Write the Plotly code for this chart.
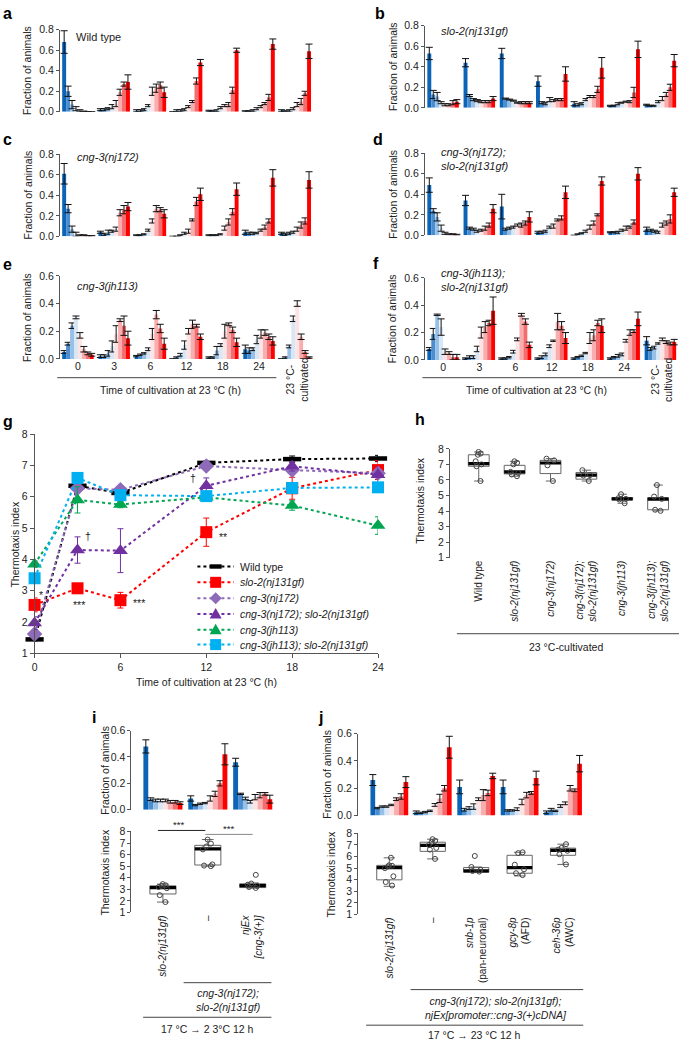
import plotly.graph_objects as go

W, H = 685, 1047
FONT = "Liberation Sans, Arial, Helvetica, sans-serif"
INK = "#222222"
AXC = "#555555"


def px(x):
    return x / W


def py(y):
    return 1 - y / H


# ---------------- data ----------------
SECTION_COLORS = ["#0b64b5", "#4a8ed0", "#98c0e6", "#d8e7f6",
                  "#fde3e3", "#f8adae", "#f36c6e", "#ff0000"]
TIME_GROUPS = ["0", "3", "6", "12", "18", "24", "23C"]
TIME_TICKTEXT = ["0", "3", "6", "12", "18", "24", ""]

# a: Wild type (rows = groups, columns = plate sections -4..+4)
A_MEAN = [[0.68, 0.20, 0.07, 0.03, 0.01, 0.005, 0.0, 0.0],
          [0.02, 0.02, 0.03, 0.05, 0.08, 0.19, 0.27, 0.29],
          [0.01, 0.01, 0.02, 0.06, 0.20, 0.23, 0.26, 0.19],
          [0.00, 0.01, 0.01, 0.02, 0.05, 0.10, 0.30, 0.48],
          [0.01, 0.005, 0.01, 0.04, 0.06, 0.07, 0.21, 0.60],
          [0.005, 0.005, 0.01, 0.03, 0.05, 0.08, 0.14, 0.66],
          [0.01, 0.005, 0.01, 0.03, 0.07, 0.10, 0.18, 0.59]]
A_ERR = [[0.11, 0.05, 0.04, 0.02, 0.01, 0.0, 0.0, 0.0],
         [0.01, 0.01, 0.01, 0.02, 0.03, 0.03, 0.02, 0.07],
         [0.01, 0.01, 0.01, 0.01, 0.04, 0.04, 0.03, 0.05],
         [0.0, 0.01, 0.01, 0.01, 0.01, 0.01, 0.03, 0.03],
         [0.005, 0.005, 0.01, 0.01, 0.01, 0.02, 0.03, 0.02],
         [0.005, 0.005, 0.01, 0.01, 0.01, 0.01, 0.03, 0.05],
         [0.01, 0.005, 0.01, 0.01, 0.02, 0.03, 0.02, 0.07]]

# b: slo-2(nj131gf)
B_MEAN = [[0.53, 0.13, 0.11, 0.05, 0.03, 0.03, 0.05, 0.06],
          [0.44, 0.12, 0.08, 0.07, 0.06, 0.06, 0.06, 0.09],
          [0.53, 0.09, 0.08, 0.07, 0.05, 0.05, 0.05, 0.05],
          [0.26, 0.05, 0.04, 0.08, 0.07, 0.08, 0.08, 0.33],
          [0.04, 0.03, 0.04, 0.08, 0.11, 0.11, 0.18, 0.39],
          [0.02, 0.02, 0.04, 0.05, 0.06, 0.06, 0.15, 0.57],
          [0.03, 0.02, 0.02, 0.06, 0.09, 0.13, 0.20, 0.46]]
B_ERR = [[0.06, 0.04, 0.04, 0.01, 0.01, 0.01, 0.02, 0.02],
         [0.04, 0.01, 0.01, 0.01, 0.01, 0.01, 0.01, 0.02],
         [0.05, 0.005, 0.005, 0.005, 0.005, 0.01, 0.01, 0.01],
         [0.05, 0.01, 0.01, 0.02, 0.01, 0.01, 0.01, 0.07],
         [0.02, 0.01, 0.01, 0.01, 0.01, 0.01, 0.03, 0.10],
         [0.005, 0.005, 0.01, 0.005, 0.005, 0.01, 0.05, 0.08],
         [0.005, 0.005, 0.005, 0.01, 0.02, 0.02, 0.03, 0.06]]

# c: cng-3(nj172)
C_MEAN = [[0.61, 0.27, 0.07, 0.02, 0.01, 0.01, 0.005, 0.005],
          [0.04, 0.02, 0.04, 0.05, 0.07, 0.23, 0.26, 0.29],
          [0.01, 0.01, 0.02, 0.06, 0.15, 0.27, 0.26, 0.22],
          [0.0, 0.0, 0.01, 0.03, 0.05, 0.16, 0.34, 0.41],
          [0.01, 0.01, 0.01, 0.02, 0.08, 0.14, 0.24, 0.46],
          [0.04, 0.03, 0.03, 0.03, 0.06, 0.09, 0.15, 0.57],
          [0.03, 0.02, 0.03, 0.04, 0.07, 0.11, 0.15, 0.55]]
C_ERR = [[0.10, 0.04, 0.03, 0.02, 0.005, 0.005, 0.0, 0.0],
         [0.01, 0.01, 0.02, 0.01, 0.02, 0.03, 0.04, 0.04],
         [0.005, 0.005, 0.005, 0.01, 0.02, 0.03, 0.02, 0.04],
         [0.0, 0.0, 0.005, 0.01, 0.02, 0.01, 0.04, 0.06],
         [0.005, 0.005, 0.005, 0.005, 0.02, 0.03, 0.03, 0.06],
         [0.02, 0.01, 0.01, 0.005, 0.01, 0.02, 0.02, 0.08],
         [0.01, 0.01, 0.01, 0.01, 0.02, 0.03, 0.03, 0.08]]

# d: cng-3(nj172); slo-2(nj131gf)
D_MEAN = [[0.49, 0.24, 0.18, 0.07, 0.02, 0.01, 0.01, 0.005],
          [0.34, 0.07, 0.06, 0.04, 0.05, 0.07, 0.10, 0.26],
          [0.28, 0.06, 0.07, 0.08, 0.10, 0.10, 0.12, 0.18],
          [0.03, 0.03, 0.04, 0.08, 0.09, 0.15, 0.17, 0.42],
          [0.0, 0.01, 0.02, 0.04, 0.08, 0.12, 0.20, 0.53],
          [0.03, 0.03, 0.03, 0.05, 0.07, 0.08, 0.13, 0.60],
          [0.06, 0.05, 0.04, 0.03, 0.10, 0.12, 0.16, 0.42]]
D_ERR = [[0.07, 0.02, 0.04, 0.03, 0.01, 0.005, 0.005, 0.005],
         [0.05, 0.01, 0.01, 0.01, 0.01, 0.02, 0.02, 0.04],
         [0.12, 0.01, 0.01, 0.01, 0.01, 0.02, 0.02, 0.05],
         [0.01, 0.01, 0.01, 0.01, 0.02, 0.01, 0.02, 0.06],
         [0.0, 0.005, 0.005, 0.01, 0.02, 0.02, 0.01, 0.04],
         [0.005, 0.005, 0.01, 0.01, 0.02, 0.01, 0.02, 0.06],
         [0.02, 0.01, 0.01, 0.01, 0.02, 0.02, 0.04, 0.04]]

# e: cng-3(jh113)
E_MEAN = [[0.05, 0.11, 0.24, 0.30, 0.17, 0.07, 0.04, 0.03],
          [0.02, 0.02, 0.04, 0.09, 0.18, 0.28, 0.24, 0.15],
          [0.02, 0.03, 0.04, 0.07, 0.18, 0.32, 0.22, 0.11],
          [0.0, 0.01, 0.03, 0.10, 0.20, 0.25, 0.24, 0.16],
          [0.01, 0.01, 0.06, 0.10, 0.20, 0.25, 0.21, 0.12],
          [0.07, 0.06, 0.07, 0.14, 0.18, 0.19, 0.16, 0.13],
          [0.0, 0.01, 0.09, 0.29, 0.40, 0.16, 0.05, 0.01]]
E_ERR = [[0.01, 0.01, 0.02, 0.01, 0.02, 0.02, 0.01, 0.01],
         [0.01, 0.01, 0.02, 0.04, 0.06, 0.01, 0.07, 0.05],
         [0.005, 0.005, 0.005, 0.01, 0.04, 0.03, 0.03, 0.04],
         [0.0, 0.005, 0.01, 0.03, 0.02, 0.03, 0.01, 0.02],
         [0.005, 0.005, 0.03, 0.01, 0.05, 0.01, 0.02, 0.03],
         [0.03, 0.02, 0.01, 0.03, 0.03, 0.02, 0.02, 0.03],
         [0.0, 0.005, 0.01, 0.02, 0.02, 0.02, 0.01, 0.005]]

# f: cng-3(jh113); slo-2(nj131gf)
F_MEAN = [[0.08, 0.19, 0.33, 0.24, 0.06, 0.05, 0.02, 0.02],
          [0.01, 0.02, 0.02, 0.08, 0.20, 0.24, 0.27, 0.36],
          [0.01, 0.01, 0.02, 0.06, 0.15, 0.33, 0.28, 0.11],
          [0.01, 0.02, 0.04, 0.10, 0.14, 0.28, 0.25, 0.16],
          [0.01, 0.02, 0.03, 0.05, 0.16, 0.18, 0.27, 0.25],
          [0.01, 0.02, 0.03, 0.04, 0.14, 0.20, 0.21, 0.30],
          [0.14, 0.08, 0.09, 0.12, 0.15, 0.13, 0.12, 0.13]]
F_ERR = [[0.01, 0.04, 0.005, 0.06, 0.02, 0.01, 0.02, 0.02],
         [0.005, 0.01, 0.01, 0.02, 0.04, 0.04, 0.02, 0.10],
         [0.005, 0.005, 0.005, 0.01, 0.01, 0.01, 0.02, 0.02],
         [0.005, 0.01, 0.01, 0.01, 0.005, 0.06, 0.03, 0.04],
         [0.005, 0.005, 0.005, 0.005, 0.04, 0.04, 0.02, 0.05],
         [0.005, 0.005, 0.01, 0.01, 0.01, 0.02, 0.01, 0.05],
         [0.03, 0.01, 0.01, 0.005, 0.01, 0.01, 0.01, 0.02]]

# g: thermotaxis index time course
TIMES = [0, 3, 6, 12, 18, 24]
G_NAMES = ["Wild type", "<i>slo-2(nj131gf)</i>", "<i>cng-3(nj172)</i>",
           "<i>cng-3(nj172); slo-2(nj131gf)</i>", "<i>cng-3(jh113)</i>",
           "<i>cng-3(jh113); slo-2(nj131gf)</i>"]
G_COLORS = ["#000000", "#ff0000", "#8e6bb9", "#7030a0", "#00a651", "#00b0f0"]
WT_TI = [1.45, 6.35, 6.12, 7.08, 7.2, 7.22]
WT_SE = [0.05, 0.08, 0.08, 0.05, 0.1, 0.1]
SLO_TI = [2.55, 3.08, 2.7, 4.87, 6.27, 6.85]
SLO_SE = [0.22, 0.15, 0.25, 0.45, 0.35, 0.3]
NJ172_TI = [1.62, 6.27, 6.22, 6.98, 6.85, 6.75]
NJ172_SE = [0.1, 0.1, 0.1, 0.05, 0.1, 0.1]
NJ172SLO_TI = [1.97, 4.3, 4.28, 6.35, 6.97, 6.7]
NJ172SLO_SE = [0.2, 0.42, 0.7, 0.25, 0.15, 0.25]
JH113_TI = [3.85, 5.9, 5.75, 5.98, 5.72, 5.08]
JH113_SE = [0.1, 0.42, 0.1, 0.1, 0.15, 0.28]
JH113SLO_TI = [3.4, 6.6, 6.05, 6.02, 6.28, 6.3]
JH113SLO_SE = [0.1, 0.15, 0.1, 0.1, 0.1, 0.1]

# h: 23 degC-cultivated box plots
H_CATS = ["Wild type", "<i>slo-2(nj131gf)</i>", "<i>cng-3(nj172)</i>",
          "<i>cng-3(nj172);<br>slo-2(nj131gf)</i>", "<i>cng-3(jh113)</i>",
          "<i>cng-3(jh113);<br>slo-2(nj131gf)</i>"]
H_LETTERS = ["b", "b", "b", "b", "a", "a"]
H_Q1 = [6.88, 6.39, 6.41, 6.05, 4.72, 4.08]
H_MED = [7.05, 6.52, 7.09, 6.31, 4.78, 4.76]
H_Q3 = [7.62, 6.94, 7.26, 6.48, 4.86, 4.86]
H_LO = [5.93, 6.24, 5.93, 5.93, 4.5, 4.01]
H_HI = [7.8, 7.2, 7.37, 6.63, 5.08, 5.67]
H_PTS = [[7.8, 7.7, 7.62, 7.2, 7.0, 6.88, 5.93],
         [7.2, 7.1, 7.0, 6.52, 6.45, 6.35, 6.24],
         [7.37, 7.26, 6.94, 5.93],
         [6.63, 6.31, 6.28, 5.93],
         [5.08, 4.82, 4.78, 4.74, 4.5],
         [5.67, 4.93, 4.78, 4.08, 4.01]]

# i: rescue by cng-3(+)
I_CATS = ["<i>slo-2(nj131gf)</i>", "\u2013", "<i>njEx</i><br><i>[cng-3(+)]</i>"]
I_MEAN = [[0.48, 0.08, 0.07, 0.07, 0.07, 0.06, 0.06, 0.05],
          [0.085, 0.035, 0.045, 0.05, 0.085, 0.12, 0.20, 0.42],
          [0.36, 0.12, 0.085, 0.06, 0.095, 0.11, 0.12, 0.08]]
I_ERR = [[0.05, 0.01, 0.01, 0.01, 0.01, 0.01, 0.01, 0.01],
         [0.02, 0.005, 0.005, 0.005, 0.02, 0.02, 0.02, 0.08],
         [0.03, 0.005, 0.01, 0.01, 0.02, 0.02, 0.01, 0.03]]
I_Q1 = [2.6, 5.1, 3.15]
I_MED = [3.15, 6.5, 3.32]
I_Q3 = [3.3, 6.8, 3.48]
I_LO = [1.9, 5.0, 3.1]
I_HI = [3.45, 7.3, 3.55]
I_PTS = [[3.45, 3.35, 3.3, 3.2, 3.1, 2.5, 1.9],
         [7.3, 6.95, 6.7, 6.45, 5.15, 5.05, 5.0],
         [4.25, 3.5, 3.4, 3.3, 3.2, 3.12]]

# j: cell-specific rescue
J_CATS = ["<i>slo-2(nj131gf)</i>", "\u2013", "<i>snb-1p</i><br>(pan-neuronal)",
          "<i>gcy-8p</i><br>(AFD)", "<i>ceh-36p</i><br>(AWC)"]
J_MEAN = [[0.26, 0.055, 0.066, 0.066, 0.078, 0.12, 0.14, 0.245],
          [0.024, 0.02, 0.026, 0.035, 0.078, 0.126, 0.20, 0.50],
          [0.21, 0.043, 0.055, 0.066, 0.12, 0.15, 0.166, 0.29],
          [0.21, 0.038, 0.038, 0.047, 0.10, 0.15, 0.166, 0.275],
          [0.024, 0.043, 0.035, 0.07, 0.09, 0.20, 0.185, 0.38]]
J_ERR = [[0.04, 0.005, 0.005, 0.005, 0.005, 0.01, 0.02, 0.04],
         [0.01, 0.005, 0.005, 0.005, 0.01, 0.03, 0.02, 0.08],
         [0.05, 0.01, 0.01, 0.02, 0.01, 0.04, 0.02, 0.02],
         [0.05, 0.005, 0.005, 0.01, 0.02, 0.02, 0.01, 0.05],
         [0.01, 0.01, 0.005, 0.01, 0.01, 0.02, 0.01, 0.06]]
J_Q1 = [3.99, 6.45, 4.65, 4.56, 6.11]
J_MED = [5.04, 6.96, 4.76, 5.04, 6.54]
J_Q3 = [5.24, 7.24, 5.05, 6.11, 6.73]
J_LO = [3.43, 5.8, 4.65, 4.33, 5.32]
J_HI = [5.89, 7.5, 5.1, 6.37, 7.07]
J_PTS = [[5.9, 5.25, 5.2, 5.15, 5.0, 4.3, 3.8, 3.5],
         [7.5, 7.35, 7.25, 7.0, 6.75, 6.6, 5.8],
         [6.05, 5.1, 4.85, 4.75, 4.7],
         [6.37, 6.3, 5.3, 4.9, 4.56, 4.4],
         [7.07, 6.75, 6.6, 6.5, 6.2, 5.32]]
J_SIG = ["***", "", "***", "***", ""]

# ---------------- figure ----------------
fig = go.Figure()
layout = {}
annotations = []
shapes = []


def sfx(n):
    return "" if n == 1 else str(n)


def ann(text, x, y, size=10.5, angle=0, xanchor="center", yanchor="middle",
        align="center", color=INK):
    annotations.append(dict(text=text, x=px(x), y=py(y), xref="paper", yref="paper",
                            showarrow=False, textangle=angle, xanchor=xanchor,
                            yanchor=yanchor, align=align,
                            font=dict(size=size, family=FONT, color=color)))


def hline(x0, x1, y, color="#333", width=1, dash="solid"):
    shapes.append(dict(type="line", xref="paper", yref="paper", x0=px(x0), x1=px(x1),
                       y0=py(y), y1=py(y), line=dict(color=color, width=width, dash=dash)))


def yaxis_common(ytop, ybot, rng, tickvals, fmt, n):
    return dict(domain=[py(ybot), py(ytop)], anchor="x" + sfx(n), range=rng,
                tickmode="array", tickvals=tickvals, tickformat=fmt,
                showline=True, linecolor=AXC, linewidth=1, ticks="outside",
                ticklen=3, tickcolor=AXC, showgrid=False, zeroline=False,
                tickfont=dict(size=10.5, family=FONT, color=INK))


def bar_panel(n, mean, err, cats, x0, x1, ytop, ybot, yrng, ytv, xrng,
              ticktext=None):
    xa = dict(domain=[px(x0), px(x1)], anchor="y" + sfx(n), type="category",
              categoryorder="array", categoryarray=cats, range=xrng,
              showline=False, ticks="", showgrid=False, zeroline=False,
              showticklabels=ticktext is not None,
              tickfont=dict(size=10.5, family=FONT, color=INK))
    if ticktext is not None:
        xa.update(tickmode="array", tickvals=cats, ticktext=ticktext)
    layout["xaxis" + sfx(n)] = xa
    layout["yaxis" + sfx(n)] = yaxis_common(ytop, ybot, yrng, ytv, ".1f", n)
    for s in range(8):
        fig.add_trace(go.Bar(
            x=cats, y=[g[s] for g in mean],
            error_y=dict(type="data", array=[g[s] for g in err], color="#111",
                         thickness=1, width=3.5),
            marker=dict(color=SECTION_COLORS[s], line=dict(width=0)),
            xaxis="x" + sfx(n), yaxis="y" + sfx(n), showlegend=False,
            hoverinfo="skip"))


def box_panel(n, cats, q1, med, q3, lo, hi, pts, x0, x1, ytop, ybot, xrng,
              ticks_font=10):
    layout["xaxis" + sfx(n)] = dict(
        domain=[px(x0), px(x1)], anchor="y" + sfx(n), type="category",
        categoryorder="array", categoryarray=cats, range=xrng, showline=False,
        ticks="", showgrid=False, zeroline=False, tickangle=-90,
        tickfont=dict(size=ticks_font, family=FONT, color=INK))
    layout["yaxis" + sfx(n)] = yaxis_common(ytop, ybot, [1, 8], list(range(1, 9)), "d", n)
    xa, ya = "x" + sfx(n), "y" + sfx(n)
    fig.add_trace(go.Box(x=cats, q1=q1, median=med, q3=q3, lowerfence=lo,
                         upperfence=hi, fillcolor="white",
                         line=dict(color="#666", width=1), whiskerwidth=0.45,
                         boxpoints=False, xaxis=xa, yaxis=ya, showlegend=False,
                         hoverinfo="skip"))
    fig.add_trace(go.Box(x=cats, q1=med, median=med, q3=med, lowerfence=med,
                         upperfence=med, fillcolor="black",
                         line=dict(color="black", width=3.2), whiskerwidth=0,
                         boxpoints=False, xaxis=xa, yaxis=ya, showlegend=False,
                         hoverinfo="skip"))
    for c, p in zip(cats, pts):
        fig.add_trace(go.Box(x=[c] * len(p), y=p, boxpoints="all", jitter=0.45,
                             pointpos=0, fillcolor="rgba(0,0,0,0)",
                             line=dict(width=0, color="rgba(0,0,0,0)"),
                             marker=dict(symbol="circle-open", size=5, color="#444",
                                         line=dict(width=1)),
                             xaxis=xa, yaxis=ya, showlegend=False,
                             hoverinfo="skip"))


# panels a-f
bar_panel(1, A_MEAN, A_ERR, TIME_GROUPS, 57.6, 314.5, 24, 107, [0, 0.8],
          [0, 0.2, 0.4, 0.6, 0.8], [-0.5, 6.5])
bar_panel(2, B_MEAN, B_ERR, TIME_GROUPS, 427.6, 684.5, 20, 103, [0, 0.8],
          [0, 0.2, 0.4, 0.6, 0.8], [-0.5, 6.5])
bar_panel(3, C_MEAN, C_ERR, TIME_GROUPS, 57.6, 314.5, 150, 233, [0, 0.8],
          [0, 0.2, 0.4, 0.6, 0.8], [-0.5, 6.5])
bar_panel(4, D_MEAN, D_ERR, TIME_GROUPS, 427.6, 684.5, 149, 232, [0, 0.8],
          [0, 0.2, 0.4, 0.6, 0.8], [-0.5, 6.5])
bar_panel(5, E_MEAN, E_ERR, TIME_GROUPS, 57.6, 314.5, 273, 357, [0, 0.6],
          [0, 0.2, 0.4, 0.6], [-0.5, 6.5], TIME_TICKTEXT)
bar_panel(6, F_MEAN, F_ERR, TIME_GROUPS, 427.6, 684.5, 275, 358, [0, 0.6],
          [0, 0.2, 0.4, 0.6], [-0.5, 6.5], TIME_TICKTEXT)

# panel g
layout["xaxis7"] = dict(domain=[px(32), px(380)], anchor="y7", range=[0, 24],
                        tickmode="array", tickvals=[0, 6, 12, 18, 24],
                        showline=True, linecolor=AXC, ticks="outside", ticklen=4,
                        tickcolor=AXC, showgrid=False, zeroline=False,
                        tickfont=dict(size=10.5, family=FONT, color=INK))
layout["yaxis7"] = yaxis_common(433, 655, [1, 8], list(range(1, 9)), "d", 7)
layout["yaxis7"]["ticklen"] = 4

G_MARKERS = [
    dict(symbol="line-ew", size=13, line=dict(width=4.5, color=G_COLORS[0])),
    dict(symbol="square", size=12, color=G_COLORS[1]),
    dict(symbol="diamond", size=12, color=G_COLORS[2]),
    dict(symbol="triangle-up", size=13, color=G_COLORS[3]),
    dict(symbol="triangle-up", size=13, color=G_COLORS[4]),
    dict(symbol="square", size=12, color=G_COLORS[5]),
]
G_VALUES = [(WT_TI, WT_SE), (SLO_TI, SLO_SE), (NJ172_TI, NJ172_SE),
            (NJ172SLO_TI, NJ172SLO_SE), (JH113_TI, JH113_SE),
            (JH113SLO_TI, JH113SLO_SE)]
for name, (ti, se), col, mk in zip(G_NAMES, G_VALUES, G_COLORS, G_MARKERS):
    fig.add_trace(go.Scatter(
        x=TIMES, y=ti, mode="lines+markers", name=name,
        line=dict(color=col, width=2, dash="dot"), marker=mk,
        error_y=dict(type="data", array=se, color=col, thickness=1, width=3),
        xaxis="x7", yaxis="y7", cliponaxis=False, hoverinfo="skip",
        showlegend=False))

# hand-made compact legend for g (keys drawn as pixel-sized shapes)
LEG_ROWS = [567, 583, 599, 615, 631, 646]
LEG_KEYS = [
    dict(type="rect", x0=-6, x1=6, y0=-2.2, y1=2.2),
    dict(type="rect", x0=-5.5, x1=5.5, y0=-5.5, y1=5.5),
    dict(type="path", path="M 0,-6 L 6,0 L 0,6 L -6,0 Z"),
    dict(type="path", path="M -6,-4.5 L 6,-4.5 L 0,6 Z"),
    dict(type="path", path="M -6,-4.5 L 6,-4.5 L 0,6 Z"),
    dict(type="rect", x0=-5.5, x1=5.5, y0=-5.5, y1=5.5),
]
for row, name, col, key in zip(LEG_ROWS, G_NAMES, G_COLORS, LEG_KEYS):
    hline(197, 234, row, color=col, width=2, dash="dot")
    k = dict(key)
    k.update(xref="paper", yref="paper", xsizemode="pixel", ysizemode="pixel",
             xanchor=px(215.5), yanchor=py(row), fillcolor=col,
             line=dict(width=0, color=col))
    shapes.append(k)
    ann(name, 238, row, xanchor="left", size=10.5)

# panel h
box_panel(8, H_CATS, H_Q1, H_MED, H_Q3, H_LO, H_HI, H_PTS, 453, 682, 448, 558,
          [-0.8, 5.5])
for k, letter in enumerate(H_LETTERS):
    annotations.append(dict(text=letter, x=k, y=8.64, xref="x8", yref="y8",
                            showarrow=False, font=dict(size=10.5, family=FONT, color=INK)))

# panel i
bar_panel(9, I_MEAN, I_ERR, I_CATS, 130.2, 275.8, 733, 813, [0, 0.6],
          [0, 0.2, 0.4, 0.6], [-0.7, 2.5])
box_panel(10, I_CATS, I_Q1, I_MED, I_Q3, I_LO, I_HI, I_PTS, 130.2, 275.8, 835, 917,
          [-0.7, 2.5])

# panel j
bar_panel(11, J_MEAN, J_ERR, J_CATS, 359.8, 589.5, 736, 819, [0, 0.6],
          [0, 0.2, 0.4, 0.6], [-0.72, 4.5])
box_panel(12, J_CATS, J_Q1, J_MED, J_Q3, J_LO, J_HI, J_PTS, 359.8, 589.5, 837, 919,
          [-0.72, 4.5])
for k, sig in enumerate(J_SIG):
    if sig:
        annotations.append(dict(text=sig, x=k, y=8.05, xref="x12", yref="y12",
                                showarrow=False, font=dict(size=10, family=FONT, color=INK)))

# ---------------- text decorations ----------------
for lab, x, y in [("a", 5, 8), ("b", 382, 8), ("c", 5, 135), ("d", 380, 135),
                  ("e", 5, 262), ("f", 378, 260), ("g", 5, 420), ("h", 423, 418),
                  ("i", 92, 720), ("j", 322, 720)]:
    ann("<b>%s</b>" % lab, x, y, size=16, color="#000")

for x, y in [(25, 65), (395, 61), (25, 191), (395, 190), (25, 315), (395, 316),
             (103, 773), (328, 777)]:
    ann("Fraction of animals", x, y, angle=-90, size=10.5)
for x, y in [(12, 544), (423, 500), (103, 876), (332, 878)]:
    ann("Thermotaxis index", x, y, angle=-90, size=10.5)

ann("Wild type", 72, 31, xanchor="left", size=11)
ann("<i>slo-2(nj131gf)</i>", 442, 25, xanchor="left", size=11)
ann("<i>cng-3(nj172)</i>", 73, 153, xanchor="left", size=11)
ann("<i>cng-3(nj172);<br>slo-2(nj131gf)</i>", 442, 155, xanchor="left", align="left", size=11)
ann("<i>cng-3(jh113)</i>", 73, 283, xanchor="left", size=11)
ann("<i>cng-3(jh113);<br>slo-2(nj131gf)</i>", 442, 277, xanchor="left", align="left", size=11)

# e / f x-axis decorations
hline(55, 277, 376, color="#444")
ann("Time of cultivation at 23 \u00b0C (h)", 170, 388, size=10.5)
ann("23 \u00b0C-<br>cultivated", 298, 378, angle=-90, size=10.5)
hline(425, 647, 376, color="#444")
ann("Time of cultivation at 23 \u00b0C (h)", 541, 388, size=10.5)
ann("23 \u00b0C-<br>cultivated", 667, 378, angle=-90, size=10.5)

# g annotations
ann("Time of cultivation at 23 \u00b0C (h)", 206, 684, size=10.5)
for text, x, y in [("*", 0.45, 2.85), ("***", 3.1, 2.55), ("***", 7.3, 2.6),
                   ("**", 13.2, 4.7), ("\u2020", 3.7, 4.75), ("\u2020", 11.1, 6.6)]:
    annotations.append(dict(text=text, x=x, y=y, xref="x7", yref="y7", showarrow=False,
                            font=dict(size=10.5, family=FONT, color=INK)))

# h decorations
hline(460, 685, 635, color="#444")
ann("23 \u00b0C-cultivated", 570, 648, size=10.5)

# i decorations
hline(157, 205, 834, color="#222")
ann("***", 178, 828, size=9.5)
hline(205, 253, 838, color="#888")
ann("***", 228, 832, size=9.5)
hline(183, 272, 988, color="#444")
ann("<i>cng-3(nj172);<br>slo-2(nj131gf)</i>", 228, 1006, size=10.5)
hline(142, 272, 1023, color="#444")
ann("17 \u00b0C \u2192 2 3\u00b0C 12 h", 207, 1035, size=10.5)

# j decorations
hline(413, 588, 995, color="#444")
ann("<i>cng-3(nj172); slo-2(nj131gf);<br>njEx[promoter::cng-3(+)cDNA]</i>", 500, 1014, size=10.5)
hline(368, 588, 1031, color="#444")
ann("17 \u00b0C \u2192 23 \u00b0C 12 h", 478, 1041, size=10.5)

fig.update_layout(
    width=W, height=H, margin=dict(l=0, r=0, t=0, b=0),
    paper_bgcolor="white", plot_bgcolor="rgba(0,0,0,0)",
    barmode="group", bargap=0.13, bargroupgap=0,
    boxmode="overlay", boxgap=0.17,
    font=dict(family=FONT, size=10.5, color=INK),
    showlegend=False,
    annotations=annotations, shapes=shapes,
    **layout)

fig.write_html(
    "out.html",
    config={"displayModeBar": False, "staticPlot": True},
    post_script="document.body.style.margin='0';document.body.style.padding='0';"
                "document.documentElement.style.overflow='hidden';"
                "document.body.style.overflow='hidden';")
